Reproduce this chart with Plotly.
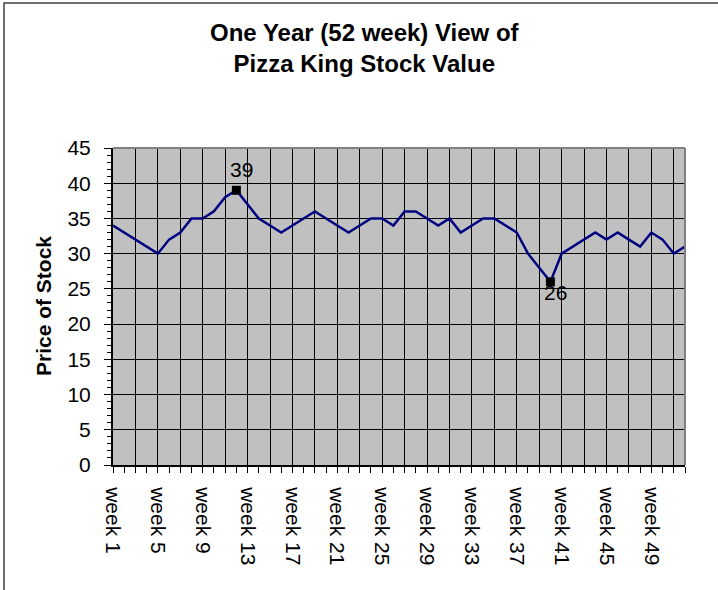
import plotly.graph_objects as go

weeks = [f"week {i}" for i in range(1, 53)]
prices = [34, 33, 32, 31, 30, 32, 33, 35, 35, 36,
          38, 39, 37, 35, 34, 33, 34, 35, 36, 35,
          34, 33, 34, 35, 35, 34, 36, 36, 35, 34,
          35, 33, 34, 35, 35, 34, 33, 30, 28, 26,
          30, 31, 32, 33, 32, 33, 32, 31, 33, 32,
          30, 31]
title_lines = ["One Year (52 week) View of", "Pizza King Stock Value"]
y_title = "Price of Stock"

idx = list(range(len(weeks)))
i_max = prices.index(max(prices))
i_min = prices.index(min(prices))

W, H = 718, 590
L, R, T, B = 113, 685, 148, 465
pw, ph = R - L, B - T

def px(x):
    return (x - L) / pw

def py(y):
    return (B - y) / ph

fig = go.Figure()
fig.add_trace(go.Scatter(
    x=idx, y=prices, mode="lines",
    line=dict(color="#000080", width=2.5),
    hoverinfo="x+y", showlegend=False))
fig.add_trace(go.Scatter(
    x=[i_max, i_min], y=[prices[i_max], prices[i_min]], mode="markers",
    marker=dict(symbol="square", size=9, color="black"),
    showlegend=False))

font_family = "Liberation Sans, Arial, sans-serif"

annotations = [
    dict(x=i_max, y=prices[i_max], xref="x", yref="y", text=str(prices[i_max]),
         showarrow=False, xanchor="center", yanchor="bottom", xshift=5, yshift=7,
         font=dict(size=21, color="black", family=font_family)),
    dict(x=i_min, y=prices[i_min], xref="x", yref="y", text=str(prices[i_min]),
         showarrow=False, xanchor="center", yanchor="top", xshift=5, yshift=3,
         font=dict(size=21, color="black", family=font_family)),
    dict(x=px(365), y=py(48), xref="paper", yref="paper",
         text="<br>".join(f"<b>{t}</b>" for t in title_lines),
         showarrow=False, xanchor="center", yanchor="middle", align="center",
         font=dict(size=24, color="black", family=font_family)),
    dict(x=px(43), y=py(306), xref="paper", yref="paper", text=f"<b>{y_title}</b>",
         showarrow=False, xanchor="center", yanchor="middle", textangle=-90,
         font=dict(size=21, color="black", family=font_family)),
]

shapes = [
    # outer chart border
    dict(type="rect", xref="paper", yref="paper",
         x0=px(4), x1=px(740), y0=py(620), y1=py(3),
         line=dict(color="#404040", width=1.5), layer="below"),
    # plot area border top and right
    dict(type="line", xref="paper", yref="paper", x0=0, x1=1, y0=1, y1=1,
         line=dict(color="#808080", width=2)),
    dict(type="line", xref="paper", yref="paper", x0=1, x1=1, y0=0, y1=1,
         line=dict(color="#808080", width=2)),
]

tickvals = idx[::2]
ticktext = [weeks[i] if i % 4 == 0 else "" for i in tickvals]

fig.update_layout(
    width=W, height=H,
    margin=dict(l=L, r=W - R, t=T, b=H - B),
    paper_bgcolor="white", plot_bgcolor="#C0C0C0",
    font=dict(family=font_family, size=21, color="black"),
    annotations=annotations, shapes=shapes,
    xaxis=dict(
        range=[0, len(weeks) - 1], tickmode="array", tickvals=tickvals, ticktext=ticktext,
        tickangle=90, showgrid=True, gridcolor="black", gridwidth=1,
        showline=True, linecolor="black", linewidth=2,
        ticks="outside", ticklen=6, tickcolor="black", tickwidth=1,
        minor=dict(dtick=1, tick0=0, ticks="outside", ticklen=6, tickcolor="black", showgrid=False),
        tickfont=dict(size=21), zeroline=False, automargin=False, ticklabelstandoff=10,
        fixedrange=True),
    yaxis=dict(
        range=[0, 45], dtick=5, tick0=0, showgrid=True, gridcolor="black", gridwidth=1,
        showline=True, linecolor="black", linewidth=2,
        ticks="outside", ticklen=7, tickcolor="black", tickwidth=1,
        minor=dict(dtick=1, ticks="outside", ticklen=4, tickcolor="black", showgrid=False),
        tickfont=dict(size=21), zeroline=False, automargin=False, ticklabelstandoff=9,
        fixedrange=True),
)

fig.write_html("out.html", config={"displayModeBar": False},
               post_script="document.body.style.margin='0px';document.body.style.overflow='hidden';")
